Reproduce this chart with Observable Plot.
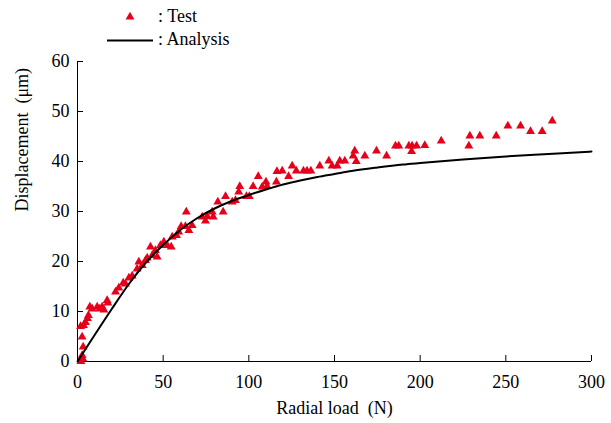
<!DOCTYPE html>
<html>
<head>
<meta charset="utf-8">
<script src="https://cdn.jsdelivr.net/npm/d3@7"></script>
<script src="https://cdn.jsdelivr.net/npm/@observablehq/plot@0.6"></script>
<style>
  html, body { margin: 0; padding: 0; background: #fff; }
  #wrap { position: relative; width: 611px; height: 423px; }
  #legend { position: absolute; left: 0; top: 0; }
  text { font-family: "Liberation Serif", "Times New Roman", serif; }
</style>
</head>
<body>
<div id="wrap"></div>
<script>
// Test measurements: radial load (N) and displacement (µm)
const testLoad = [2, 3, 2.7, 3.3, 2.7, 1.8, 3.5, 4.7, 5.8, 6.4, 7.2, 8.6, 11.5, 13, 14.4, 15.4, 17.7, 17.3,
  22.2, 24.1, 26.7, 28, 30, 31.9, 34.8, 35.8, 37.8, 39.7, 40.7, 42.6, 43.6, 45.5, 46.5, 48.4, 50.4, 52.4,
  54.7, 55.3, 57.8, 59.1, 60.5, 63, 65, 66.9, 63.5, 72.8, 74.7, 75.7, 78.6, 79.2, 81.9, 85, 86.4, 90.3,
  92.2, 94.1, 94.7, 98.6, 100.3, 102.5, 105.5, 107.8, 110, 110.7, 116.1, 116.4, 119.5, 123.2, 125.3,
  127.7, 131.9, 134, 136.2, 141.4, 146.7, 148.6, 151.6, 153.1, 156, 160.9, 161.8, 162.7, 167.7, 174.5,
  180.4, 185.6, 187.5, 193.4, 195.3, 197.9, 195, 202.7, 212.3, 228.4, 229, 234.8, 244.4, 251.2, 258.6,
  264.4, 271.2, 277.1];
const testDisp = [0, 0.6, 1.2, 2.9, 4.9, 7, 7.2, 7.8, 8.6, 9.2, 10.9, 10.5, 10.9, 10.5, 10.9, 10.3, 11.7, 12.2,
  13.9, 14.7, 15.7, 15.5, 16.7, 17.1, 18.5, 19.9, 19.2, 20.2, 20.7, 22.9, 21.2, 22.2, 20.9, 23.2, 23.9, 23.2,
  22.9, 24.9, 25.2, 25.9, 27, 27, 26.2, 27.2, 29.9, 28.9, 28.1, 29, 29.9, 28.9, 31.9, 29.9, 33, 31.9,
  32.2, 33.9, 35, 33, 33, 35, 37, 34.9, 35.9, 35, 35.9, 38, 38.1, 37, 39.1,
  38.1, 38.1, 38.1, 38.1, 39.1, 40.1, 39.1, 39.1, 40.1, 40.1, 41.1, 42.1, 40, 41.1, 42.1,
  41.1, 43.1, 43.1, 43.1, 43.1, 43.1, 42, 43.2, 44.1, 43.1, 45.1, 45.1, 45.1, 47.1, 47.1,
  46, 46, 48.1];

// Analysis curve
const analysisLoad = [0, 10, 20, 30, 40, 50, 60, 70, 80, 90, 100, 110, 120, 130, 140, 150, 160, 175, 190, 200, 225, 250, 275, 300];
const analysisDisp = [0, 5.3, 10.5, 15.5, 19.8, 23.3, 26.3, 28.7, 30.6, 32.1, 33.3, 34.4, 35.4, 36.2, 36.9, 37.5, 38.1, 38.8, 39.4, 39.7, 40.4, 41, 41.5, 42];

const xTicks = [0, 50, 100, 150, 200, 250, 300];
const yTicks = [0, 10, 20, 30, 40, 50, 60];
const xLabel = "Radial load  (N)";
const yLabel = "Displacement  (μm)";
const legendLabels = [": Test", ": Analysis"];

const test = testLoad.map((x, i) => ({x, y: testDisp[i]}));
const analysis = analysisLoad.map((x, i) => ({x, y: analysisDisp[i]}));

const font = `"Liberation Serif", "Times New Roman", serif`;

const chart = Plot.plot({
  width: 611,
  height: 423,
  marginLeft: 77,
  marginRight: 20,
  marginTop: 61,
  marginBottom: 62,
  style: {fontFamily: font, fontSize: "18px", color: "#000", background: "#fff", overflow: "visible"},
  x: {domain: [0, 300], ticks: xTicks, tickSize: -6, tickPadding: 20, label: null},
  y: {domain: [0, 60], ticks: yTicks, tickSize: -6, tickPadding: 14, label: null},
  marks: [
    Plot.ruleY([0], {stroke: "#000", strokeWidth: 1}),
    Plot.ruleX([0], {stroke: "#000", strokeWidth: 1}),
    Plot.dot(test, {x: "x", y: "y", symbol: "triangle", r: 3.3, fill: "#e6001a", stroke: "none"}),
    Plot.line(analysis, {x: "x", y: "y", stroke: "#000", strokeWidth: 2, curve: "monotone-x"}),
    Plot.text([xLabel], {frameAnchor: "bottom", dy: 52, fontSize: 18, fill: "#000"}),
    Plot.text([yLabel], {frameAnchor: "left", dx: -55, rotate: -90, fontSize: 18, fill: "#000"})
  ]
});
document.getElementById("wrap").appendChild(chart);

// Legend overlay
const leg = d3.select("#wrap").append("svg")
  .attr("id", "legend").attr("width", 611).attr("height", 55);
const tri = d3.symbol().type(d3.symbolTriangle).size(3.3 * 3.3 * Math.PI)();
leg.append("path").attr("d", tri).attr("transform", "translate(130,17)").attr("fill", "#e6001a");
leg.append("line").attr("x1", 107).attr("x2", 153).attr("y1", 40.5).attr("y2", 40.5)
  .attr("stroke", "#000").attr("stroke-width", 2);
leg.append("text").attr("x", 158).attr("y", 22).attr("font-size", 18).attr("font-family", font).text(legendLabels[0]);
leg.append("text").attr("x", 158).attr("y", 45).attr("font-size", 18).attr("font-family", font).text(legendLabels[1]);
</script>
</body>
</html>
